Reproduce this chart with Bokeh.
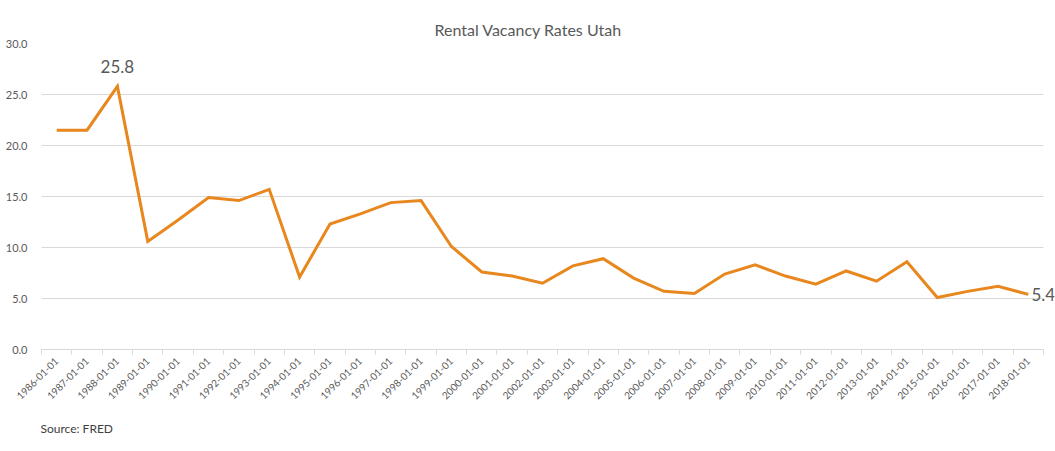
import numpy as np
from bokeh.plotting import figure
from bokeh.models import FixedTicker, Label, Range1d, ColumnDataSource, Title
from bokeh.embed import file_html
from bokeh.resources import INLINE

dates = [f"{y}-01-01" for y in range(1986, 2019)]
rates = [21.5, 21.5, 25.8, 10.6, 12.7, 14.9, 14.6, 15.7, 7.1, 12.3,
         13.3, 14.4, 14.6, 10.1, 7.6, 7.2, 6.5, 8.2, 8.9, 7.0,
         5.7, 5.5, 7.4, 8.3, 7.2, 6.4, 7.7, 6.7, 8.6, 5.1,
         5.7, 6.2, 5.4]
y_ticks = [0, 5, 10, 15, 20, 25, 30]

FONT = "Lato"
GRAY = "#595959"
ORANGE = "#E8871E"

idx = list(range(len(dates)))
src = ColumnDataSource(dict(x=idx, y=rates, d=dates))
n = len(dates)

p = figure(width=1055, height=449, output_backend="svg", toolbar_location=None,
           x_range=Range1d(-0.5, n - 0.5 + 0.36), y_range=Range1d(0, 30),
           min_border_left=41, min_border_right=1, min_border_top=43, min_border_bottom=99)
p.outline_line_color = None
p.background_fill_color = "white"
p.border_fill_color = "white"

p.title.text = "Rental Vacancy Rates Utah"
p.title.align = "left"
p.title.offset = 393
p.title.standoff = 10
p.title.text_font = FONT
p.title.text_font_size = "16px"
p.title.text_font_style = "normal"
p.title.text_color = GRAY

p.line("x", "y", source=src, line_color=ORANGE, line_width=3, line_join="miter")

# x axis
xa = p.xaxis[0]
xa.bounds = (-0.5, n - 0.5)
xa.ticker = FixedTicker(ticks=idx, minor_ticks=[i - 0.5 for i in range(n + 1)])
xa.major_label_overrides = {i: d for i, d in zip(idx, dates)}
xa.major_label_orientation = np.pi / 4
xa.major_tick_line_color = None
xa.minor_tick_line_color = "#D9D9D9"
xa.minor_tick_out = 5
xa.minor_tick_in = 0
xa.axis_line_color = "#D9D9D9"
xa.axis_line_width = 1
xa.major_label_text_font = FONT
xa.major_label_text_font_size = "10px"
xa.major_label_text_color = GRAY
xa.major_label_standoff = 4

# y axis
ya = p.yaxis[0]
ya.ticker = FixedTicker(ticks=y_ticks)
ya.major_label_overrides = {t: f"{t:.1f}" for t in y_ticks}
ya.axis_line_color = None
ya.major_tick_line_color = None
ya.minor_tick_line_color = None
ya.major_label_text_font = FONT
ya.major_label_text_font_size = "11px"
ya.major_label_text_color = GRAY
ya.major_label_standoff = 8

p.xgrid.grid_line_color = None
p.ygrid.ticker = FixedTicker(ticks=y_ticks[1:])
p.ygrid.grid_line_color = "#D9D9D9"
p.ygrid.grid_line_width = 1
p.ygrid.cross_bounds = (-0.5, n - 0.5)

# data labels
imax = int(np.argmax(rates))
p.add_layout(Label(x=imax, y=rates[imax], text=f"{rates[imax]:.1f}", text_align="center",
                   text_baseline="bottom", y_offset=13, text_font=FONT, text_font_size="17px",
                   text_color=GRAY))
p.add_layout(Label(x=idx[-1], y=rates[-1], text=f"{rates[-1]:.1f}", text_align="left",
                   text_baseline="middle", x_offset=3, text_font=FONT, text_font_size="17px",
                   text_color=GRAY))

p.add_layout(Title(text="Source: FRED", align="left", offset=-1, standoff=27,
                   text_font=FONT, text_font_size="12px", text_font_style="normal",
                   text_color="#404040"), "below")

open("out.html", "w").write(file_html(p, INLINE))
